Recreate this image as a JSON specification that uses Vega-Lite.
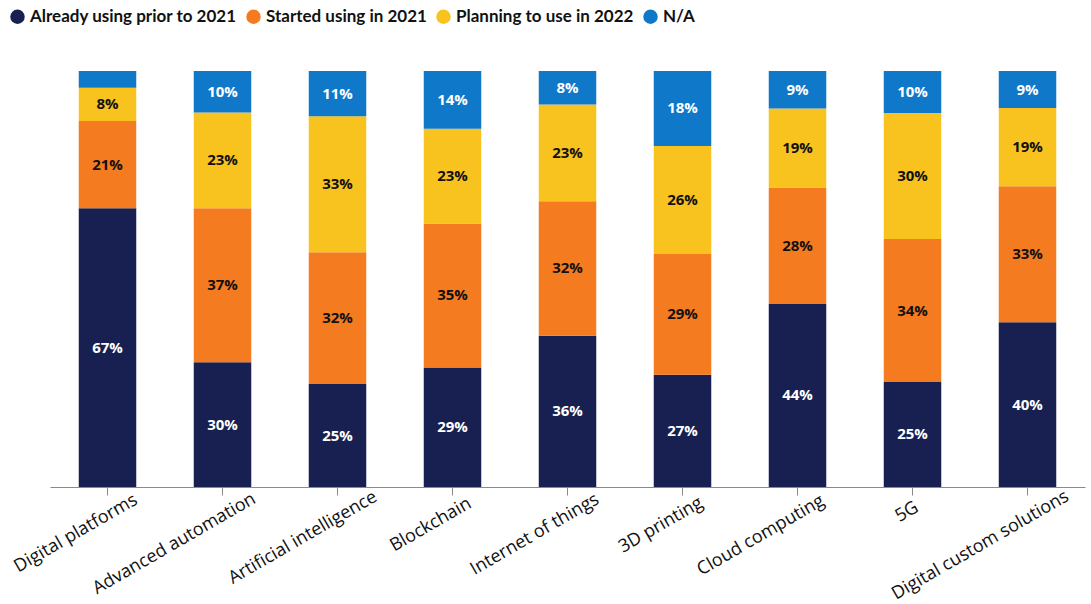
{
  "$schema": "https://vega.github.io/schema/vega-lite/v6.json",
  "autosize": {"type": "none"},
  "width": 1035,
  "height": 416,
  "padding": {"left": 50, "top": 71, "right": 6, "bottom": 117},
  "background": "white",
  "config": {"view": {"stroke": null}, "font": "Open Sans"},
  "data": {"values": [
    {"tech": "Digital platforms", "series": "Already using prior to 2021", "order": 1, "value": 67},
    {"tech": "Digital platforms", "series": "Started using in 2021", "order": 2, "value": 21},
    {"tech": "Digital platforms", "series": "Planning to use in 2022", "order": 3, "value": 8},
    {"tech": "Digital platforms", "series": "N/A", "order": 4, "value": 4},
    {"tech": "Advanced automation", "series": "Already using prior to 2021", "order": 1, "value": 30},
    {"tech": "Advanced automation", "series": "Started using in 2021", "order": 2, "value": 37},
    {"tech": "Advanced automation", "series": "Planning to use in 2022", "order": 3, "value": 23},
    {"tech": "Advanced automation", "series": "N/A", "order": 4, "value": 10},
    {"tech": "Artificial intelligence", "series": "Already using prior to 2021", "order": 1, "value": 25},
    {"tech": "Artificial intelligence", "series": "Started using in 2021", "order": 2, "value": 32},
    {"tech": "Artificial intelligence", "series": "Planning to use in 2022", "order": 3, "value": 33},
    {"tech": "Artificial intelligence", "series": "N/A", "order": 4, "value": 11},
    {"tech": "Blockchain", "series": "Already using prior to 2021", "order": 1, "value": 29},
    {"tech": "Blockchain", "series": "Started using in 2021", "order": 2, "value": 35},
    {"tech": "Blockchain", "series": "Planning to use in 2022", "order": 3, "value": 23},
    {"tech": "Blockchain", "series": "N/A", "order": 4, "value": 14},
    {"tech": "Internet of things", "series": "Already using prior to 2021", "order": 1, "value": 36},
    {"tech": "Internet of things", "series": "Started using in 2021", "order": 2, "value": 32},
    {"tech": "Internet of things", "series": "Planning to use in 2022", "order": 3, "value": 23},
    {"tech": "Internet of things", "series": "N/A", "order": 4, "value": 8},
    {"tech": "3D printing", "series": "Already using prior to 2021", "order": 1, "value": 27},
    {"tech": "3D printing", "series": "Started using in 2021", "order": 2, "value": 29},
    {"tech": "3D printing", "series": "Planning to use in 2022", "order": 3, "value": 26},
    {"tech": "3D printing", "series": "N/A", "order": 4, "value": 18},
    {"tech": "Cloud computing", "series": "Already using prior to 2021", "order": 1, "value": 44},
    {"tech": "Cloud computing", "series": "Started using in 2021", "order": 2, "value": 28},
    {"tech": "Cloud computing", "series": "Planning to use in 2022", "order": 3, "value": 19},
    {"tech": "Cloud computing", "series": "N/A", "order": 4, "value": 9},
    {"tech": "5G", "series": "Already using prior to 2021", "order": 1, "value": 25},
    {"tech": "5G", "series": "Started using in 2021", "order": 2, "value": 34},
    {"tech": "5G", "series": "Planning to use in 2022", "order": 3, "value": 30},
    {"tech": "5G", "series": "N/A", "order": 4, "value": 10},
    {"tech": "Digital custom solutions", "series": "Already using prior to 2021", "order": 1, "value": 40},
    {"tech": "Digital custom solutions", "series": "Started using in 2021", "order": 2, "value": 33},
    {"tech": "Digital custom solutions", "series": "Planning to use in 2022", "order": 3, "value": 19},
    {"tech": "Digital custom solutions", "series": "N/A", "order": 4, "value": 9}
  ]},
  "transform": [
    {"stack": "value", "groupby": ["tech"], "sort": [{"field": "order"}], "offset": "normalize", "as": ["y0", "y1"]},
    {"calculate": "(datum.y0 + datum.y1) / 2", "as": "ymid"},
    {"calculate": "datum.value >= 5 ? datum.value + '%' : ''", "as": "label"}
  ],
  "encoding": {
    "x": {
      "field": "tech", "type": "nominal", "sort": null,
      "scale": {"paddingInner": 0.5, "paddingOuter": 0.25},
      "axis": {
        "title": null, "labelAngle": -30, "labelAlign": "right", "labelBaseline": "top",
        "labelFontSize": 18, "labelColor": "#111111", "labelFont": "Open Sans", "labelLimit": 0,
        "domainColor": "#8a8a8a", "tickColor": "#8a8a8a", "tickSize": 8,
        "labelPadding": {"expr": "4 - 0.5 * length(datum.label)"},
        "labelOffset": {"expr": "1.6 * length(datum.label) - 3"}
      }
    }
  },
  "layer": [
    {
      "mark": {"type": "bar"},
      "encoding": {
        "y": {"field": "y0", "type": "quantitative", "scale": {"domain": [0, 1]}, "axis": null},
        "y2": {"field": "y1"},
        "color": {
          "field": "series", "type": "nominal",
          "scale": {
            "domain": ["Already using prior to 2021", "Started using in 2021", "Planning to use in 2022", "N/A"],
            "range": ["#172050", "#f57b20", "#f8c21f", "#0f78c8"]
          },
          "legend": {
            "title": null, "orient": "none", "direction": "horizontal",
            "legendX": -41, "legendY": -63,
            "symbolType": "circle", "symbolSize": 210, "symbolOpacity": 1,
            "labelFont": "Lato", "labelFontSize": 17, "labelFontWeight": "bold",
            "labelColor": "#111111", "columnPadding": 8, "symbolOffset": 0, "labelOffset": 4,
            "labelLimit": 400
          }
        }
      }
    },
    {
      "mark": {"type": "text", "font": "Open Sans", "fontSize": 15, "fontWeight": "bold"},
      "encoding": {
        "y": {"field": "ymid", "type": "quantitative", "scale": {"domain": [0, 1]}},
        "text": {"field": "label"},
        "color": {
          "condition": {"test": "datum.order == 1 || datum.order == 4", "value": "white"},
          "value": "#111111"
        }
      }
    }
  ]
}
